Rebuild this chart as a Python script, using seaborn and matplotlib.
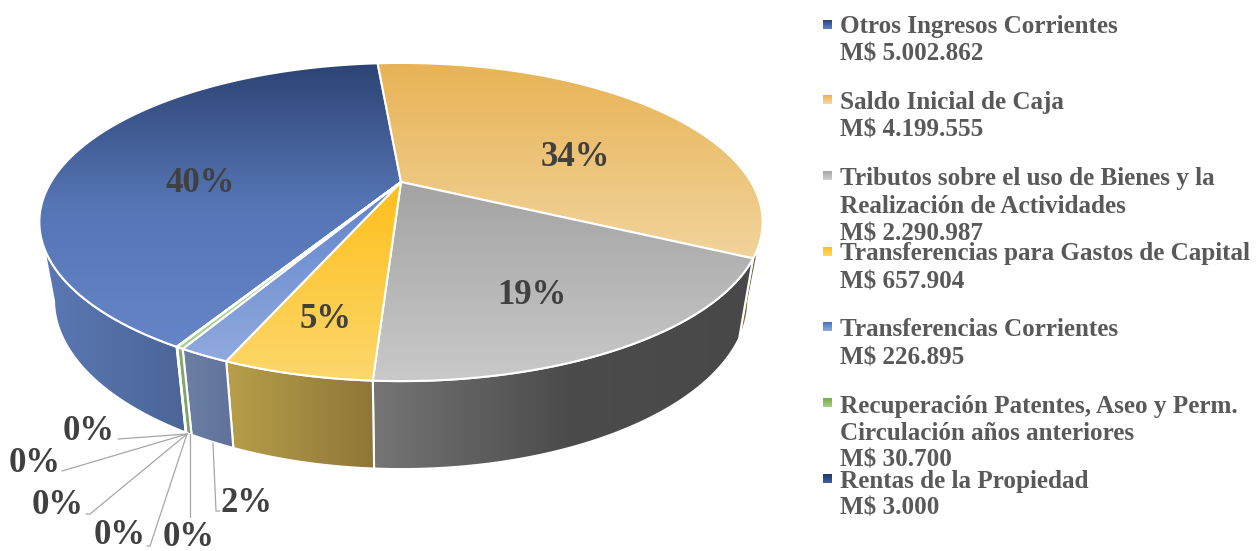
import numpy as np
import seaborn as sns
import matplotlib
matplotlib.use("Agg")
import matplotlib.pyplot as plt
from matplotlib.patches import Polygon

sns.set_theme(style="white")
plt.rcParams['font.family'] = ['Liberation Serif', 'DejaVu Serif']

# data (last three slices have no legend entry, they are ~0)
values = [5002862, 4199555, 2290987, 657904, 226895, 30700, 3000, 0, 0, 0]
pct_labels = ['40%', '34%', '19%', '5%', '2%', '0%', '0%', '0%', '0%', '0%']
legend_lines = [
    ['Otros Ingresos Corrientes', 'M$ 5.002.862'],
    ['Saldo Inicial de Caja', 'M$ 4.199.555'],
    ['Tributos sobre el uso de Bienes y la', 'Realización de Actividades', 'M$ 2.290.987'],
    ['Transferencias para Gastos de Capital', 'M$ 657.904'],
    ['Transferencias Corrientes', 'M$ 226.895'],
    ['Recuperación Patentes, Aseo y Perm.', 'Circulación años anteriores', 'M$ 30.700'],
    ['Rentas de la Propiedad', 'M$ 3.000'],
]

# gradients per slice: top face (dark->light going down), wall (left->right)
top_colors = [('#2C4474', '#5675B5', '#6585C8'), ('#E8B355', '#F1D49B'), ('#A3A3A3', '#C9C9C9'),
              ('#FFBF1A', '#FBD76C'), ('#5F82CC', '#90AADD'), ('#A4CF87', '#A9D18E'),
              ('#264478', '#264478')]
wall_colors = [('#5A78B4', '#4B6596'), ('#8A7440', '#6E5C30'), ('#757575', '#4C4C4C', '#484848'),
               ('#B89F4A', '#8E7638'), ('#6C7FA4', '#60729A'), ('#86AC6E', '#7EA266'),
               ('#1C3358', '#1C3358')]
legend_colors = [('#2C4474', '#5F82CC'), ('#F0B050', '#F5D8A8'), ('#A5A5A5', '#D0D0D0'),
                 ('#FFC010', '#FFD868'), ('#4472C4', '#90AADD'), ('#70AD47', '#A9D18E'),
                 ('#1F3864', '#3F5F9F')]

# perspective of the disc
CX, CY = 401, 182
A, B, K = 350, 149, 0.2516


def top_xy(theta):
    t = np.radians(theta)
    u, v = np.cos(t), np.sin(t)
    w = 1 + K * v
    return CX + A * u / w, CY - B * v / w


def bottom_xy(theta):
    x, y = top_xy(theta)
    return 405 + 0.96 * (x - 405), 63.4 + 1.0645 * y


def grad_fill(ax, pts, colors, horizontal, z):
    cmap = sns.blend_palette(colors, as_cmap=True)
    xs, ys = pts[:, 0], pts[:, 1]
    g = np.linspace(0, 1, 256)
    g = g[None, :] if horizontal else g[:, None]
    im = ax.imshow(g, cmap=cmap, vmin=0, vmax=1, aspect='auto', origin='upper',
                   extent=(xs.min(), xs.max(), ys.max(), ys.min()), zorder=z)
    patch = Polygon(pts, closed=True, facecolor='none', edgecolor='white', lw=1.5, zorder=z + 0.5,
                    joinstyle='round')
    ax.add_patch(patch)
    clip = Polygon(pts, closed=True, transform=ax.transData)
    im.set_clip_path(clip)


fig = plt.figure(figsize=(12.56, 5.51), dpi=100)
ax = fig.add_axes([0, 0, 1, 1])

# let pie work out the angles, the wedges are redrawn in perspective below
wedges, _ = ax.pie(values, startangle=-120.1, counterclock=False, frame=True)
angles = [(w.theta1, w.theta2) for w in wedges]
for w in wedges:
    w.remove()

n_shown = len(legend_lines)

# walls, only the part facing us. top and bottom rims end at different angles
# because the outer edge runs as a straight tangent between them
for i in [1, 0, 2, 3, 4, 5, 6]:
    t1, t2 = angles[i]
    shift = 360 * np.floor(((t1 + t2) / 2 + 270) / 360)
    a, b = t1 - shift, t2 - shift
    if min(b, -17) <= max(a, -157):
        continue
    th_top = np.linspace(max(a, -157), min(b, -17), 80)
    th_bot = np.linspace(max(a, -165), min(b, -15), 80)
    px, py = top_xy(th_top)
    qx, qy = bottom_xy(th_bot)
    pts = np.vstack([np.c_[px, py], np.c_[qx, qy][::-1]])
    grad_fill(ax, pts, wall_colors[i], True, 2 + i)

# top faces
for i in range(n_shown):
    t1, t2 = angles[i]
    th = np.linspace(t1, t2, 200)
    px, py = top_xy(th)
    pts = np.vstack([[CX, CY], np.c_[px, py]])
    grad_fill(ax, pts, top_colors[i], False, 20 + i)

# percent labels
label_pos = [(200, 183), (575, 157), (532, 295), (326, 320), (246, 503),
             (89, 432), (35, 464), (58, 506), (120, 536), (189, 537)]
for s, (x, y) in zip(pct_labels, label_pos):
    ax.text(x, y, s, ha='center', va='center', fontsize=25, fontweight='bold', color='#404040', zorder=40)

# leader lines of the small slices
leaders = [[(187, 434), (118, 439)], [(187, 434), (62, 471)], [(187, 434), (90, 514), (86, 514)],
           [(187, 434), (150, 546), (147, 546)], [(189.5, 434), (189.5, 517)],
           [(213, 443), (216, 511), (220, 511)]]
for line in leaders:
    xs, ys = zip(*line)
    ax.plot(xs, ys, color='#A6A6A6', lw=0.9, zorder=15)

# legend, spacing is uneven in the original so each line is placed by hand
baselines = [[33, 61], [109, 137], [185, 213, 240], [260, 288], [336, 364], [413, 440, 467], [488, 515]]
marker_y = [25, 100, 176, 252, 327, 403, 479]
for lines, ys, my, cols in zip(legend_lines, baselines, marker_y, legend_colors):
    cmap = sns.blend_palette(cols, as_cmap=True)
    ax.imshow(np.linspace(0, 1, 32)[:, None], cmap=cmap, aspect='auto', origin='upper',
              extent=(823, 832, my + 4.5, my - 4.5), zorder=30)
    for s, y in zip(lines, ys):
        ax.text(840, y, s, ha='left', va='baseline', fontsize=18.1, fontweight='bold', color='#595959')

ax.set_aspect('auto')
ax.set_xlim(0, 1256)
ax.set_ylim(551, 0)
ax.axis('off')
fig.savefig('out.png', dpi=100)
